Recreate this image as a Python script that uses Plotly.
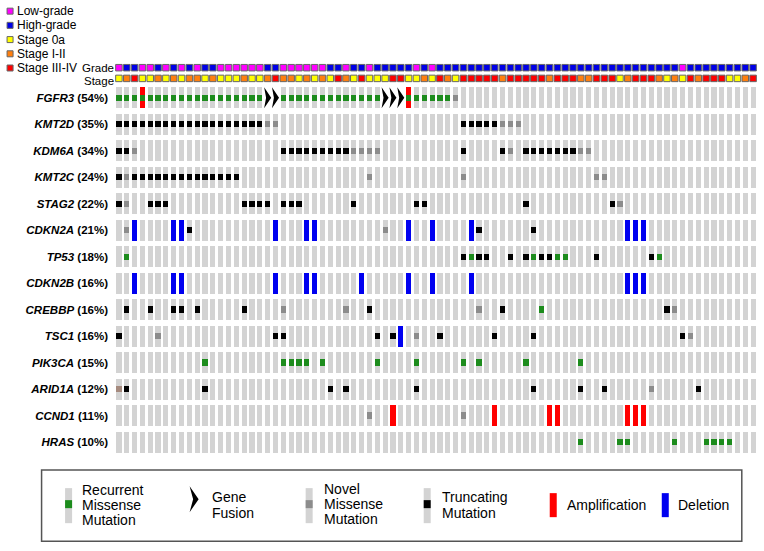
import plotly.graph_objects as go

# ---------------- data ----------------
genes = ["FGFR3", "KMT2D", "KDM6A", "KMT2C", "STAG2", "CDKN2A", "TP53",
         "CDKN2B", "CREBBP", "TSC1", "PIK3CA", "ARID1A", "CCND1", "HRAS"]
freq = ["54%", "35%", "34%", "24%", "22%", "21%", "18%",
        "16%", "16%", "16%", "15%", "12%", "11%", "10%"]
n_samples = 82

# grade per sample: L = low-grade, H = high-grade
grade = ("LHHLLHLHLHLHH" "LLLLLLHHLLLLLL" "HHLHHLHHHHHLHL"
         "HHHHHHHHHHHHHHHHHHHHHHHHHHHHHHH" "L" "HHHHHHHHH")
# stage per sample: Y = 0a, O = I-II, R = III-IV
stage = ("YORYYOYOYO" "OYOYYYOYYO" "ROOYOYOYRO" "YRYYYRRYYO" "YROYRRRRRO"
         "RRRRRORRRO" "ORRRYORRRO" "YOYRORRRYY" "OR")

# per-gene alteration columns (sample index)
rng = lambda a, b: list(range(a, b + 1))
missense = {  # recurrent missense
    "FGFR3": rng(0, 18) + rng(21, 33) + rng(37, 42),
    "TP53": [1, 45, 53, 56, 57, 69],
    "CREBBP": [54],
    "PIK3CA": [11, 21, 22, 23, 24, 26, 33, 38, 44, 46, 52, 59],
    "HRAS": [59, 64, 65, 71, 75, 76, 77, 78],
}
novel = {  # novel missense
    "FGFR3": [43],
    "KMT2D": [19, 20, 49, 50, 51],
    "KDM6A": [2, 30, 31, 32, 33, 50, 59, 60],
    "KMT2C": [1, 32, 44, 61, 62],
    "STAG2": [1, 64],
    "CDKN2A": [1, 34],
    "CREBBP": [21, 29, 46, 71],
    "TSC1": [5, 38, 73],
    "ARID1A": [68],
    "CCND1": [32, 44],
}
truncating = {
    "KMT2D": rng(0, 18) + rng(44, 48),
    "KDM6A": [0, 1] + rng(21, 29) + [44, 49] + rng(52, 58),
    "KMT2C": [0] + rng(2, 15),
    "STAG2": [0, 4, 5, 6, 16, 17, 18, 19, 21, 22, 23, 30, 38, 39, 52, 63],
    "CDKN2A": [9, 46, 53],
    "TP53": [44, 46, 47, 50, 52, 54, 55, 61, 68],
    "CREBBP": [1, 4, 7, 8, 10, 16, 32, 49, 70],
    "TSC1": [0, 20, 21, 33, 35, 41, 48, 53, 72],
    "ARID1A": [1, 11, 27, 29, 38, 53, 59, 62, 74],
}
other = {"ARID1A": [0]}
fusion = {"FGFR3": [19, 20, 34, 35, 36]}
amplification = {"FGFR3": [3, 37], "CCND1": [35, 48, 55, 56, 65, 66, 67]}
deletion = {
    "CDKN2A": [2, 7, 8, 20, 24, 25, 37, 40, 45, 65, 66, 67],
    "CDKN2B": [2, 7, 8, 20, 24, 25, 31, 37, 40, 45, 65, 66, 67],
    "TSC1": [36],
}

grade_labels = {"L": "Low-grade", "H": "High-grade"}
stage_labels = {"Y": "Stage 0a", "O": "Stage I-II", "R": "Stage III-IV"}

# ---------------- style ----------------
C_BG = "#d3d3d3"
C_GREEN = "#1d8c1d"
C_NOVEL = "#8c8c8c"
C_TRUNC = "#000000"
C_OTHER = "#a58a7e"
C_AMP = "#ff0000"
C_DEL = "#0000f0"
C_GRADE = {"L": "#ff00ff", "H": "#0000e6"}
C_STAGE = {"Y": "#ffff00", "O": "#ff7f0e", "R": "#ff0000"}
FONT = "Liberation Sans, Arial, sans-serif"

BW = 0.66      # bar width (columns)
BH = 0.80      # cell height (rows)
SQ = 0.24      # mutation square height (rows)
GRADE_Y, STAGE_Y = -1.134, -0.73

# figure geometry (px)
L, W, T, H = 115.4, 641.8, 58.3, 399.6
FIG_W, FIG_H = 764, 551


def px(x):
    return (x - L) / W


def py(y):
    return (T + H - y) / H


fig = go.Figure()


def add_bars(xs, ys, h, color):
    if not xs:
        return
    fig.add_trace(go.Bar(
        x=xs, y=[h] * len(xs), base=[y - h / 2 for y in ys], width=BW,
        marker=dict(color=color, line=dict(width=0)),
        hoverinfo="skip", showlegend=False))


# gray background cells
bx, by = [], []
for r, g in enumerate(genes):
    skip = set(fusion.get(g, [])) | set(amplification.get(g, [])) | set(deletion.get(g, []))
    for c in range(n_samples):
        if c not in skip:
            bx.append(c)
            by.append(r)
add_bars(bx, by, BH, C_BG)

for table, color, h in [(amplification, C_AMP, BH), (deletion, C_DEL, BH),
                        (missense, C_GREEN, SQ), (novel, C_NOVEL, SQ),
                        (truncating, C_TRUNC, SQ), (other, C_OTHER, SQ)]:
    xs, ys = [], []
    for g, cols in table.items():
        r = genes.index(g)
        xs += cols
        ys += [r] * len(cols)
    add_bars(xs, ys, h, color)

# fusion chevrons
fx, fy = [], []
for g, cols in fusion.items():
    r = genes.index(g)
    for c in cols:
        w, hh = 0.45, 0.40
        fx += [c - w, c + w, c - w, c - w * 0.45, c - w, None]
        fy += [r - hh, r, r + hh, r, r - hh, None]
fig.add_trace(go.Scatter(x=fx, y=fy, mode="lines", fill="toself",
                         fillcolor="black", line=dict(width=0, color="black"),
                         hoverinfo="skip", showlegend=False))

# grade & stage squares
cols = list(range(n_samples))
fig.add_trace(go.Scatter(
    x=cols, y=[GRADE_Y] * n_samples, mode="markers",
    marker=dict(symbol="square", size=6.5, color=[C_GRADE[v] for v in grade],
                line=dict(width=1, color="#666666")),
    hoverinfo="skip", showlegend=False))
fig.add_trace(go.Scatter(
    x=cols, y=[STAGE_Y] * n_samples, mode="markers",
    marker=dict(symbol="square", size=6.5, color=[C_STAGE[v] for v in stage],
                line=dict(width=1, color="#666666")),
    hoverinfo="skip", showlegend=False))

shapes, ann = [], []


def rect(x0, y0, x1, y1, fill, line_color=None, lw=0):
    shapes.append(dict(type="rect", xref="paper", yref="paper",
                       x0=px(x0), x1=px(x1), y0=py(y0), y1=py(y1),
                       fillcolor=fill,
                       line=dict(width=lw, color=line_color or fill)))


def text(x, y, s, size=12, anchor="left"):
    ann.append(dict(xref="paper", yref="paper", x=px(x), y=py(y), text=s,
                    showarrow=False, xanchor=anchor, yanchor="middle",
                    borderpad=0,
                    font=dict(family=FONT, size=size, color="black")))


# Grade / Stage labels
for lbl, yy in [("Grade", 68.5), ("Stage", 81)]:
    text(115.5, yy, lbl, size=11.5, anchor="right")

# top-left legend
top_items = [(C_GRADE["L"], grade_labels["L"]), (C_GRADE["H"], grade_labels["H"]),
             (C_STAGE["Y"], stage_labels["Y"]), (C_STAGE["O"], stage_labels["O"]),
             (C_STAGE["R"], stage_labels["R"])]
for i, (col, lbl) in enumerate(top_items):
    yc = 11.5 + i * 14.2
    rect(7.5, yc - 3, 13.5, yc + 3, col, "#666666", 1)
    text(16, yc, lbl, size=12)

# bottom legend box
rect(42, 470, 742, 541, "rgba(0,0,0,0)", "#555555", 1.5)
# recurrent missense
rect(65.5, 488, 72.5, 523, C_BG)
rect(65.5, 500, 72.5, 508, C_GREEN)
for s, yy in [("Recurrent", 490), ("Missense", 505), ("Mutation", 520)]:
    text(81, yy, s, size=14)
# gene fusion
lx0, lx1, ly0, ly1 = 190, 199, 486, 512
shapes.append(dict(type="path", xref="paper", yref="paper",
                   path="M {} {} L {} {} L {} {} L {} {} Z".format(
                       px(lx0), py(ly0), px(lx1), py((ly0 + ly1) / 2),
                       px(lx0), py(ly1), px(lx0 + 3.5), py((ly0 + ly1) / 2)),
                   fillcolor="black", line=dict(width=0)))
for s, yy in [("Gene", 497), ("Fusion", 513)]:
    text(211, yy, s, size=14)
# novel missense
rect(306, 488, 313, 523, C_BG)
rect(306, 500, 313, 508, C_NOVEL)
for s, yy in [("Novel", 489), ("Missense", 504), ("Mutation", 519)]:
    text(323, yy, s, size=14)
# truncating
rect(424, 488, 431, 523, C_BG)
rect(424, 500, 431, 508, C_TRUNC)
for s, yy in [("Truncating", 497), ("Mutation", 513)]:
    text(441, yy, s, size=14)
# amplification
rect(550, 493, 557, 517, C_AMP)
text(566, 505, "Amplification", size=14)
# deletion
rect(662, 493, 669, 517, C_DEL)
text(677, 505, "Deletion", size=14)

ticktext = ["<b><i>{}</i> ({})</b>".format(g, f) for g, f in zip(genes, freq)]

fig.update_layout(
    width=FIG_W, height=FIG_H,
    margin=dict(l=L, r=FIG_W - L - W, t=T, b=FIG_H - T - H, autoexpand=False),
    paper_bgcolor="white", plot_bgcolor="white",
    barmode="overlay", bargap=0,
    font=dict(family=FONT, size=12, color="black"),
    xaxis=dict(range=[-0.5, n_samples - 0.5], visible=False, fixedrange=True),
    yaxis=dict(range=[13.6, -1.5], tickvals=list(range(len(genes))),
               ticktext=ticktext, showgrid=False, zeroline=False, ticks="",
               showline=False, tickfont=dict(family=FONT, size=11.5),
               ticklabelstandoff=6, fixedrange=True, automargin=False),
    shapes=shapes, annotations=ann, showlegend=False,
)

fig.write_html("out.html",
               config={"displayModeBar": False, "staticPlot": True},
               post_script="document.body.style.margin='0px';")
